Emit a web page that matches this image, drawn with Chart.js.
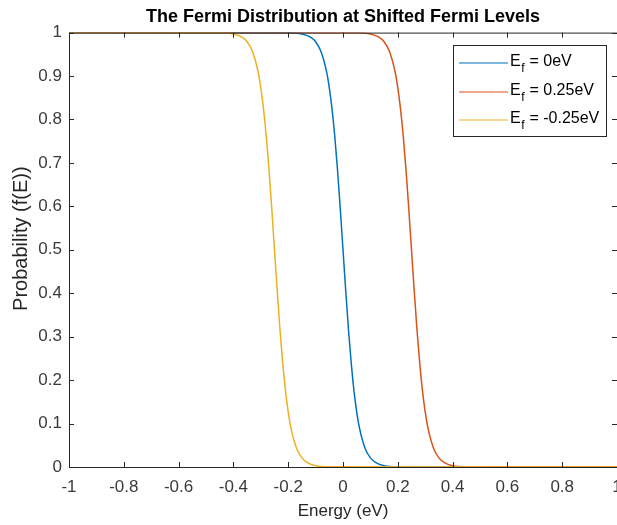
<!DOCTYPE html>
<html>
<head>
<meta charset="utf-8">
<script src="https://cdn.jsdelivr.net/npm/chart.js@4.4.1/dist/chart.umd.min.js"></script>
<style>
  html, body { margin: 0; padding: 0; background: #fff; overflow: hidden; }
  #wrap { width: 623px; height: 525px; }
</style>
</head>
<body>
<div id="wrap"><canvas id="grafica"></canvas></div>
<script>
// energies (eV) sampled for each curve
const energyZero = [-1, -0.2, -0.15, -0.12, -0.1, -0.08, -0.06, -0.05, -0.04, -0.03, -0.02, -0.01, 0,
  0.01, 0.02, 0.03, 0.04, 0.05, 0.06, 0.08, 0.1, 0.12, 0.15, 0.2, 1];
const energyPlus = [-1, 0.05, 0.1, 0.13, 0.15, 0.17, 0.19, 0.2, 0.21, 0.22, 0.23, 0.24, 0.25,
  0.26, 0.27, 0.28, 0.29, 0.3, 0.31, 0.33, 0.35, 0.37, 0.4, 0.45, 1];
const energyMinus = [-1, -0.45, -0.4, -0.37, -0.35, -0.33, -0.31, -0.3, -0.29, -0.28, -0.27, -0.26, -0.25,
  -0.24, -0.23, -0.22, -0.21, -0.2, -0.19, -0.17, -0.15, -0.13, -0.1, -0.05, 1];
// occupation probability (same shape, shifted)
const probability = [1, 0.9996, 0.997, 0.990, 0.979, 0.956, 0.910, 0.873, 0.824, 0.761, 0.684, 0.595, 0.5,
  0.405, 0.316, 0.239, 0.176, 0.127, 0.090, 0.044, 0.021, 0.010, 0.003, 0.0004, 0];

const seriesNames = ['0eV', '0.25eV', '-0.25eV'];
const seriesColors = ['#0072BD', '#D95319', '#EDB120'];
const xTicks = [-1, -0.8, -0.6, -0.4, -0.2, 0, 0.2, 0.4, 0.6, 0.8, 1];
const yTicks = [0, 0.1, 0.2, 0.3, 0.4, 0.5, 0.6, 0.7, 0.8, 0.9, 1];

const axisColor = '#262626';
const fontFamily = '"Liberation Sans", Arial, Helvetica, sans-serif';

function puntos(xs) {
  return xs.map((x, i) => ({ x: x, y: probability[i] }));
}

// MATLAB style box: ticks pointing inward on all four sides, plus legend
const cajaEjes = {
  id: 'cajaEjes',
  afterDatasetsDraw(chart) {
    const { ctx, chartArea: a, scales } = chart;
    ctx.save();
    ctx.strokeStyle = axisColor;
    ctx.lineWidth = 1;
    ctx.beginPath();
    ctx.moveTo(a.left + 0.5, a.bottom + 0.5);
    ctx.lineTo(a.left + 0.5, a.top + 0.5);
    ctx.lineTo(a.right + 0.5, a.top + 0.5);
    ctx.lineTo(a.right + 0.5, a.bottom + 0.5);
    ctx.lineTo(a.left + 0.5, a.bottom + 0.5);
    const len = 5;
    xTicks.forEach(v => {
      const px = Math.round(scales.x.getPixelForValue(v)) + 0.5;
      ctx.moveTo(px, a.bottom);
      ctx.lineTo(px, a.bottom - len);
      ctx.moveTo(px, a.top);
      ctx.lineTo(px, a.top + len);
    });
    yTicks.forEach(v => {
      const py = Math.round(scales.y.getPixelForValue(v)) + 0.5;
      ctx.moveTo(a.left, py);
      ctx.lineTo(a.left + len, py);
      ctx.moveTo(a.right, py);
      ctx.lineTo(a.right - len, py);
    });
    ctx.stroke();

    // legend with subscript f
    const bx = 453.5, by = 45.5, bw = 153, bh = 91;
    ctx.fillStyle = '#fff';
    ctx.fillRect(bx, by, bw, bh);
    ctx.strokeStyle = axisColor;
    ctx.strokeRect(bx, by, bw, bh);
    const filas = [63, 92, 120];
    seriesNames.forEach((nombre, i) => {
      const y = filas[i];
      ctx.strokeStyle = seriesColors[i];
      ctx.lineWidth = 1.2;
      ctx.beginPath();
      ctx.moveTo(459, y);
      ctx.lineTo(508, y);
      ctx.stroke();
      ctx.fillStyle = '#000';
      ctx.textBaseline = 'middle';
      ctx.textAlign = 'left';
      ctx.font = '16px ' + fontFamily;
      ctx.fillText('E', 510, y - 1);
      let x = 510 + ctx.measureText('E').width;
      ctx.font = '12px ' + fontFamily;
      ctx.fillText('f', x + 0.5, y + 6);
      x += ctx.measureText('f').width + 1;
      ctx.font = '16px ' + fontFamily;
      ctx.fillText(' = ' + nombre, x, y - 1);
    });
    ctx.restore();
  }
};

const grafica = document.querySelector('#grafica');

new Chart(grafica, {
  type: 'line',
  data: {
    datasets: [
      { label: 'Ef = ' + seriesNames[0], data: puntos(energyZero), borderColor: seriesColors[0], order: 2 },
      { label: 'Ef = ' + seriesNames[1], data: puntos(energyPlus), borderColor: seriesColors[1], order: 1 },
      { label: 'Ef = ' + seriesNames[2], data: puntos(energyMinus), borderColor: seriesColors[2], order: 0 }
    ]
  },
  options: {
    responsive: true,
    maintainAspectRatio: false,
    animation: false,
    devicePixelRatio: 1,
    elements: {
      point: { radius: 0 },
      line: { borderWidth: 1.5, cubicInterpolationMode: 'monotone', fill: false }
    },
    layout: { padding: { left: 0, right: 6, top: 0, bottom: 0 } },
    scales: {
      x: {
        type: 'linear',
        min: -1,
        max: 1,
        afterBuildTicks: s => { s.ticks = xTicks.map(v => ({ value: v })); },
        afterFit: s => { s.height = 58; s.paddingLeft = 0; s.paddingRight = 0; },
        grid: { display: false, drawTicks: false },
        border: { display: false },
        ticks: {
          padding: 10,
          maxRotation: 0,
          autoSkip: false,
          color: '#3a3a3a',
          font: { family: fontFamily, size: 17 },
          callback: v => String(v)
        },
        title: {
          display: true,
          text: 'Energy (eV)',
          color: '#262626',
          font: { family: fontFamily, size: 17 },
          padding: { top: 4, bottom: 3 }
        }
      },
      y: {
        min: 0,
        max: 1,
        afterBuildTicks: s => { s.ticks = yTicks.map(v => ({ value: v })); },
        afterFit: s => { s.width = 69; s.paddingTop = 0; s.paddingBottom = 0; },
        grid: { display: false, drawTicks: false },
        border: { display: false },
        ticks: {
          padding: 7,
          autoSkip: false,
          color: '#3a3a3a',
          font: { family: fontFamily, size: 17 },
          callback: v => String(v)
        },
        title: {
          display: true,
          // leading spaces nudge the label upward like the original
          text: '\u00a0\u00a0\u00a0\u00a0Probability (f(E))',
          color: '#262626',
          font: { family: fontFamily, size: 20 },
          padding: { top: 9, bottom: 4 }
        }
      }
    },
    plugins: {
      legend: { display: false },
      tooltip: { enabled: false },
      title: {
        display: true,
        fullSize: false,
        text: 'The Fermi Distribution at Shifted Fermi Levels',
        color: '#000',
        font: { family: fontFamily, size: 18, weight: 'bold' },
        padding: { top: 6, bottom: 5 }
      }
    }
  },
  plugins: [cajaEjes]
});
</script>
</body>
</html>
